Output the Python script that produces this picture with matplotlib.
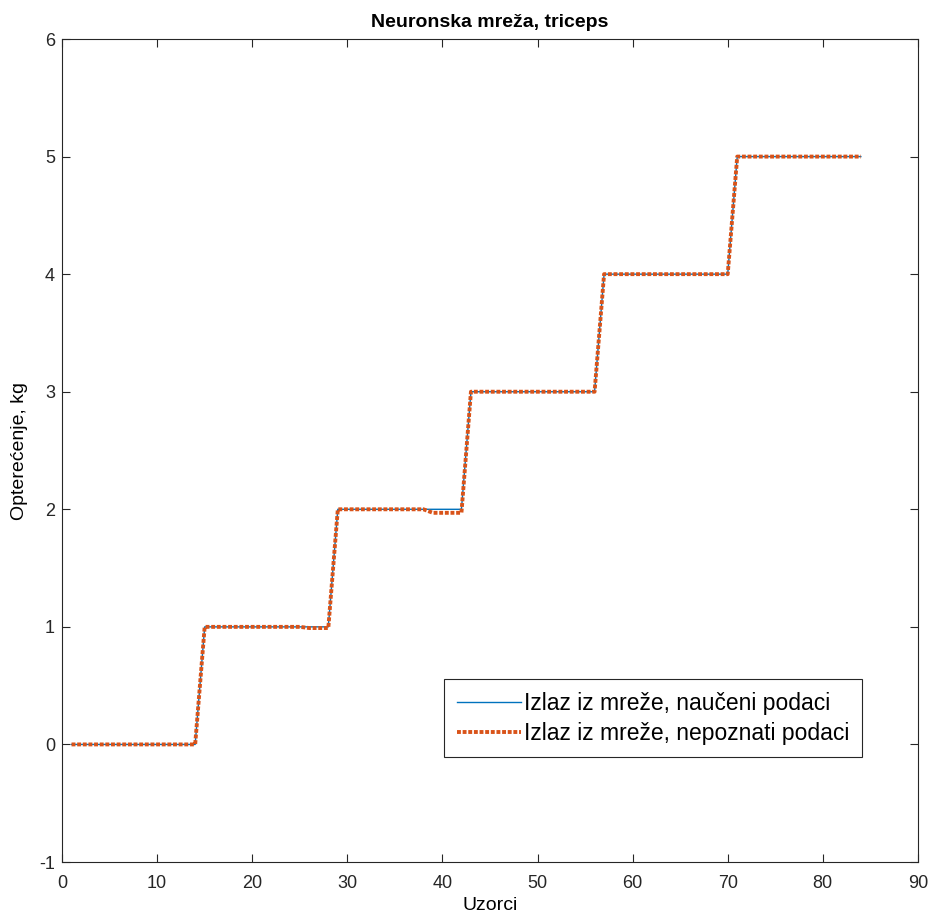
import matplotlib
matplotlib.use("Agg")
import matplotlib.pyplot as plt
import numpy as np

plt.rcParams['font.family'] = ['Liberation Sans', 'DejaVu Sans']
plt.rcParams['axes.unicode_minus'] = False

samples = list(range(1, 85))
learned = [0]*14 + [1]*14 + [2]*14 + [3]*14 + [4]*14 + [5]*14
unknown = ([0]*14 + [1]*11 + [0.99]*3 + [2]*10 + [1.97]*4 +
           [3]*14 + [4]*14 + [5]*14)

title = "Neuronska mreža, triceps"
xlabel = "Uzorci"
ylabel = "Opterećenje, kg"
labels = ["Izlaz iz mreže, naučeni podaci", "Izlaz iz mreže, nepoznati podaci"]
xticks = list(range(0, 91, 10))
yticks = list(range(-1, 7))

fig = plt.figure(figsize=(9.3, 9.18), dpi=100)
ax = fig.add_axes([0.0667, 0.061, 0.9203, 0.8965])
ax.plot(samples, learned, color='#0072BD', lw=1.0, label=labels[0])
ax.plot(samples, unknown, color='#D95319', lw=2.8, ls=(0, (1.0, 0.45)),
        label=labels[1])
ax.set_xlim(0, 90)
ax.set_ylim(-1, 6)
ax.set_xticks(xticks)
ax.set_yticks(yticks)
ax.tick_params(direction='in', top=True, right=True, labelsize=13, length=6,
               width=0.8, pad=5, colors='#262626')
ax.tick_params(axis='x', pad=9)
for s in ax.spines.values():
    s.set_linewidth(0.8)
    s.set_color('#262626')
ax.set_title(title, fontsize=14, fontweight='bold', pad=9)
ax.set_xlabel(xlabel, fontsize=14, labelpad=4)
ax.set_ylabel(ylabel, fontsize=14, labelpad=8)
leg = ax.legend(loc='lower right', bbox_to_anchor=(0.935, 0.127),
                fontsize=16.5, frameon=True, fancybox=False,
                edgecolor='#262626', framealpha=1, handlelength=2.8,
                handletextpad=0.15, borderaxespad=0, labelspacing=0.3,
                borderpad=0.55)
leg.get_frame().set_linewidth(0.8)
fig.savefig("out.png", dpi=100)
